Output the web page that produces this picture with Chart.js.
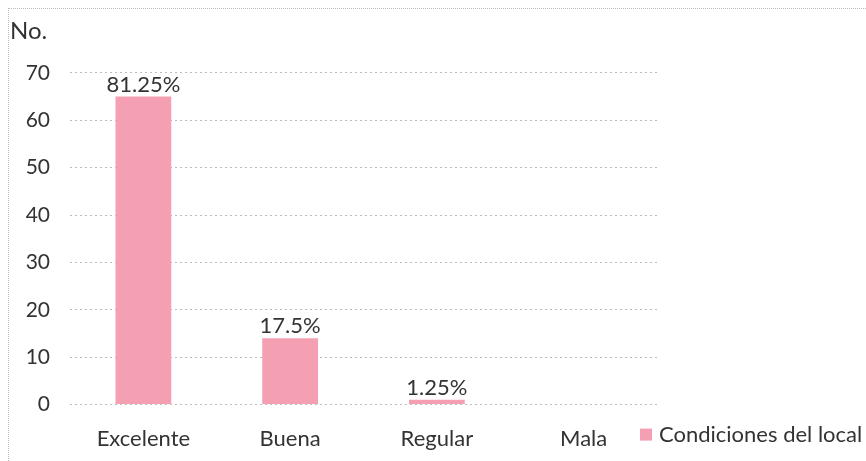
<!DOCTYPE html>
<html>
<head>
<meta charset="utf-8">
<script src="https://cdn.jsdelivr.net/npm/chart.js@4/dist/chart.umd.min.js"></script>
<style>
  body { margin: 0; background: #fff; }
  #wrap { position: relative; width: 866px; height: 461px; }
  #frame { position: absolute; left: 8px; top: 8px; right: 0; bottom: 0;
           border-top: 1px dotted #bbb; border-left: 1px dotted #bbb; pointer-events: none; }
</style>
</head>
<body>
<div id="wrap"><canvas id="chart"></canvas><div id="frame"></div></div>
<script>
// --- data ---
const categories = ['Excelente', 'Buena', 'Regular', 'Mala'];
const counts = [65, 14, 1, 0];
const yTicks = [0, 10, 20, 30, 40, 50, 60, 70];
const seriesName = 'Condiciones del local';

const barColor = '#F4A0B2';
const textColor = '#333333';
const fontFamily = 'Lato, "Open Sans", sans-serif';

const total = counts.reduce((a, b) => a + b, 0);

// percent labels over each bar
const pctLabels = {
  id: 'pctLabels',
  afterDatasetsDraw(chart) {
    const ctx = chart.ctx;
    const meta = chart.getDatasetMeta(0);
    ctx.save();
    ctx.font = '22px ' + fontFamily;
    ctx.fillStyle = textColor;
    ctx.textAlign = 'center';
    ctx.textBaseline = 'bottom';
    meta.data.forEach((bar, i) => {
      const v = counts[i];
      if (!v) return;
      const pct = Math.round(v * 10000 / total) / 100;
      ctx.fillText(pct + '%', bar.x, bar.y - 1);
    });
    ctx.restore();
  }
};

// legend sits beside the last category label, overlapping the plot's right edge
const sideLegend = {
  id: 'sideLegend',
  afterDraw(chart) {
    const ctx = chart.ctx;
    const area = chart.chartArea;
    const ds = chart.data.datasets[0];
    const y = area.bottom + 30;
    const x = area.right - 17;
    ctx.save();
    ctx.fillStyle = ds.backgroundColor;
    ctx.fillRect(x, y - 6, 12, 12);
    ctx.font = '22px ' + fontFamily;
    ctx.fillStyle = textColor;
    ctx.textAlign = 'left';
    ctx.textBaseline = 'middle';
    ctx.fillText(ds.label, x + 19, y);
    ctx.restore();
  }
};

new Chart(document.getElementById('chart'), {
  type: 'bar',
  data: {
    labels: categories,
    datasets: [{
      label: seriesName,
      data: counts,
      backgroundColor: barColor,
      borderWidth: 0,
      categoryPercentage: 1,
      barPercentage: 0.38
    }]
  },
  options: {
    responsive: true,
    maintainAspectRatio: false,
    animation: false,
    layout: { padding: { left: 10, right: 209, top: 17, bottom: -4 } },
    plugins: {
      title: {
        display: true,
        text: 'No.',
        align: 'start',
        color: textColor,
        font: { family: fontFamily, size: 24, weight: 'normal' },
        padding: { top: 0, bottom: 27 }
      },
      legend: { display: false },
      tooltip: { enabled: false }
    },
    scales: {
      x: {
        grid: { display: false },
        border: { display: false },
        ticks: { color: textColor, padding: 13, maxRotation: 0, font: { family: fontFamily, size: 22 } }
      },
      y: {
        min: 0,
        max: 70,
        afterBuildTicks: (axis) => { axis.ticks = yTicks.map(v => ({ value: v })); },
        afterFit: (axis) => { axis.width = 60; },
        grid: { color: '#bdbdbd', drawTicks: false },
        border: { display: false, dash: [2, 3] },
        ticks: { color: textColor, padding: 20, font: { family: fontFamily, size: 21 } }
      }
    }
  },
  plugins: [pctLabels, sideLegend]
});
</script>
</body>
</html>
